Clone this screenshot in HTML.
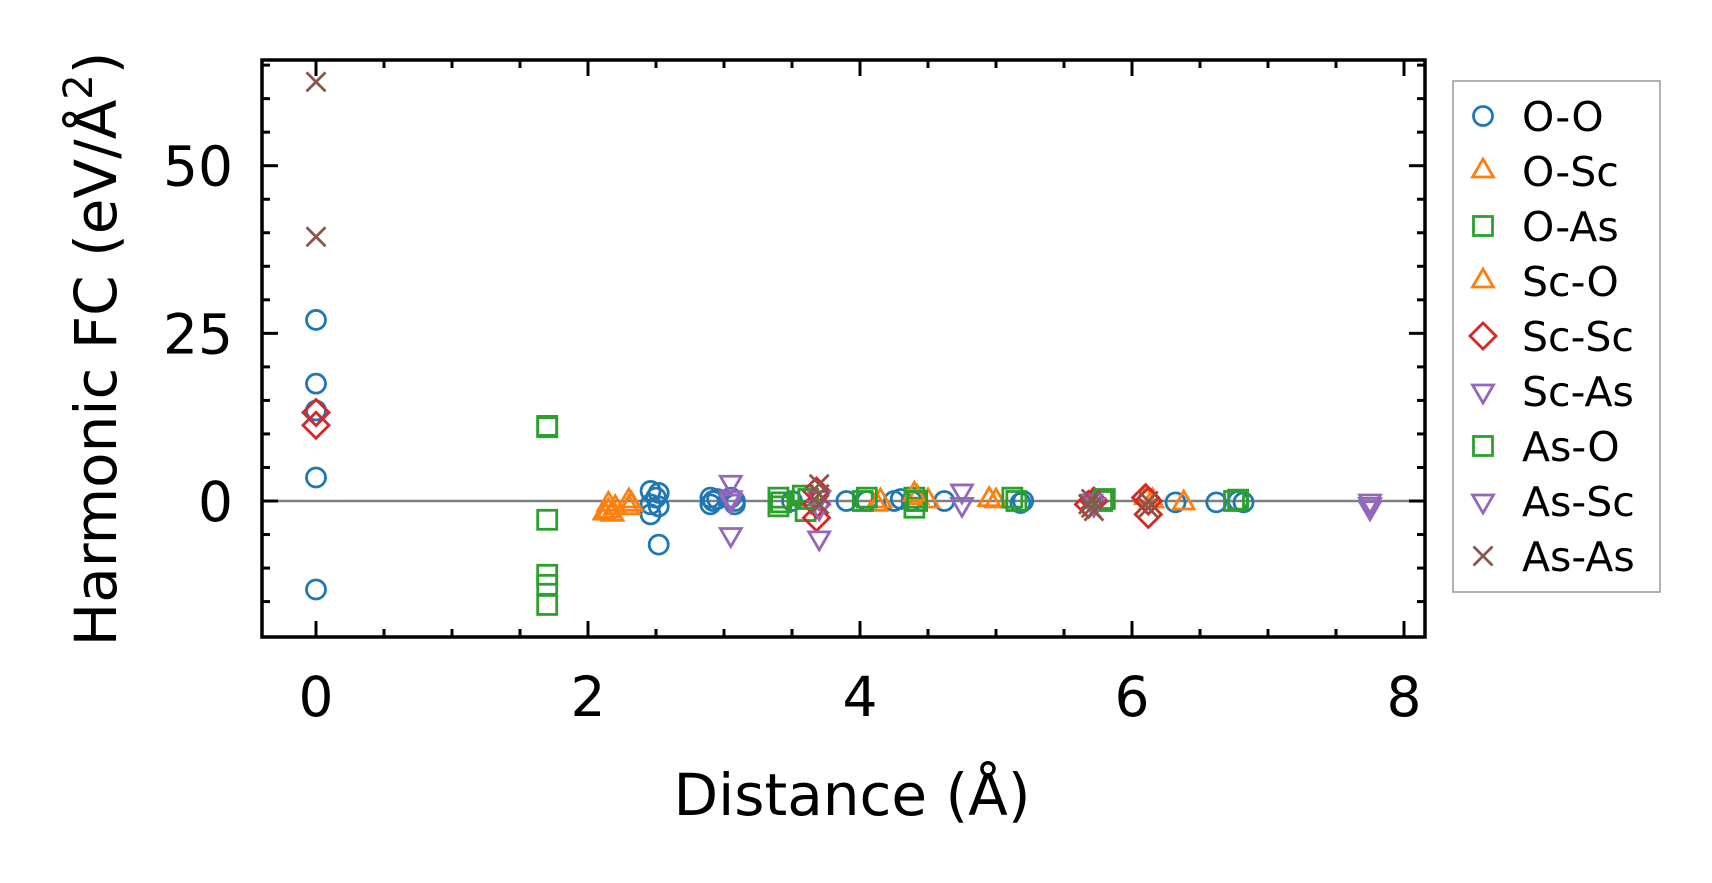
<!DOCTYPE html>
<html><head><meta charset="utf-8"><style>
body{margin:0;background:#fff}
svg{display:block}
text{font-family:"DejaVu Sans","Liberation Sans",sans-serif}
</style></head><body>
<svg id="chart" width="1712" height="883" viewBox="0 0 1712 883" xmlns="http://www.w3.org/2000/svg"></svg>
<script>
const xTicks=[0,2,4,6,8];
const yTicks=[0,25,50];
const seriesNames=["O-O","O-Sc","O-As","Sc-O","Sc-Sc","Sc-As","As-O","As-Sc","As-As"];
const ooData=[[0,27],[0,17.5],[0,13.5],[0,3.5],[0,-13.2],[2.46,1.5],[2.46,-0.5],[2.46,-2],[2.5,0.5],[2.52,1.2],[2.52,-0.8],[2.52,-6.5],[2.9,0.5],[2.9,-0.5],[2.92,0],[2.95,0.3],[3.08,0],[3.08,-0.5],[3.05,0.5],[3.5,0],[3.9,0],[4.05,0],[4.25,0],[4.3,0.3],[4.38,0],[4.62,0],[5.18,-0.3],[5.2,0],[6.32,-0.2],[6.62,-0.2],[6.78,0],[6.82,-0.2]];
const oscData=[[2.15,-1.5],[2.15,-0.5],[2.18,-2],[2.3,-1],[2.3,0],[4.12,-0.5],[4.42,0.5],[4.5,0],[5.0,0],[6.15,0],[6.38,-0.3]];
const oasData=[[1.7,11],[1.7,-2.8],[1.7,-11],[1.7,-12.5],[1.7,-15.5],[3.4,0.5],[3.4,-0.8],[3.58,0.8],[3.6,-1.5],[4.02,0],[4.4,0.5],[4.4,-1],[5.12,0.5],[5.78,0],[6.78,0.2]];
const scoData=[[2.12,-1.8],[2.2,-1],[2.32,-0.5],[4.15,0],[4.4,1],[4.95,0.2],[6.1,0.5]];
const scscData=[[0,13.2],[0,11.3],[3.68,1.5],[3.68,-0.5],[3.68,-2.5],[5.68,-0.5],[5.72,0],[6.12,0],[6.12,-2],[6.1,0.5]];
const scasData=[[3.05,2.8],[3.05,-5],[3.05,0.5],[3.7,-5.5],[3.7,-1],[4.75,1.5],[4.75,-0.5],[5.7,0],[7.75,-0.5],[7.75,0]];
const asoData=[[1.7,11.2],[3.42,-0.2],[3.62,0.3],[4.05,0.5],[4.42,0],[5.15,0],[5.8,0.3],[6.75,0]];
const asscData=[[3.05,0],[3.7,0.5],[5.72,-0.5],[7.75,-1]];
const asasData=[[0,62.5],[0,39.4],[3.7,2.5],[3.7,1],[3.7,-0.5],[5.68,-0.5],[5.7,-1],[5.72,-1.5],[5.7,0.3],[6.12,0],[6.12,-1]];

const NS="http://www.w3.org/2000/svg";
const svg=document.getElementById('chart');
const L=262,R=1425,T=60,B=637;
const X0=316,XS=136,Y0=501,YS=6.706;
function sx(d){return X0+XS*d;}
function sy(v){return Y0-YS*v;}
function mk(tag,attrs,parent){const e=document.createElementNS(NS,tag);for(const k in attrs)e.setAttribute(k,attrs[k]);(parent||svg).appendChild(e);return e;}

const zl=mk('line',{x1:L,x2:R,y1:sy(0),y2:sy(0),stroke:'#808080','stroke-width':2.5});



const colors=["#1f77b4","#ff7f0e","#2ca02c","#ff7f0e","#d62728","#9467bd","#2ca02c","#9467bd","#8c564b"];
const shapes=["circle","tri","square","tri","diamond","dtri","square","dtri","x"];
const datasets=[ooData,oscData,oasData,scoData,scscData,scasData,asoData,asscData,asasData];
function marker(shape,x,y,c,g,s){
  s=s||1;let e;
  const st={fill:'none',stroke:c,'stroke-width':2.8};
  if(shape==='circle'){e=mk('circle',Object.assign({cx:x,cy:y,r:9.5*s},st),g);}
  else if(shape==='square'){e=mk('rect',Object.assign({x:x-9.5*s,y:y-9.5*s,width:19*s,height:19*s},st),g);}
  else if(shape==='tri'){const r=12*s;e=mk('polygon',Object.assign({points:`${x},${y-r} ${x+r*0.87},${y+r*0.5} ${x-r*0.87},${y+r*0.5}`},st),g);}
  else if(shape==='dtri'){const r=12*s;e=mk('polygon',Object.assign({points:`${x},${y+r} ${x+r*0.87},${y-r*0.5} ${x-r*0.87},${y-r*0.5}`},st),g);}
  else if(shape==='diamond'){const r=13*s;e=mk('polygon',Object.assign({points:`${x},${y-r} ${x+r},${y} ${x},${y+r} ${x-r},${y}`},st),g);}
  else {const r=9.5*s;e=mk('path',Object.assign({d:`M${x-r},${y-r}L${x+r},${y+r}M${x-r},${y+r}L${x+r},${y-r}`},st),g);}
  return e;
}
datasets.forEach((ds,i)=>{
  const g=mk('g',{});
  
  
  ds.forEach(p=>{
    const m=marker(shapes[i],sx(p[0]),sy(p[1]),colors[i],g);
    
    
  });
});

const tg=mk('g',{stroke:'#000','stroke-width':3});


for(let d=0;d<=8.01;d+=0.5){
  const x=sx(d);const major=Math.abs(d-Math.round(d/2)*2)<1e-6;const len=major?16:8;
  mk('line',{x1:x,x2:x,y1:B,y2:B-len},tg);mk('line',{x1:x,x2:x,y1:T,y2:T+len},tg);
}
for(let v=-15;v<=65;v+=5){
  const y=sy(v);const major=v%25===0;const len=major?16:8;
  mk('line',{x1:L,x2:L+len,y1:y,y2:y},tg);mk('line',{x1:R,x2:R-len,y1:y,y2:y},tg);
}
const frame=mk('rect',{x:L,y:T,width:R-L,height:B-T,fill:'none',stroke:'#000','stroke-width':3.5});



xTicks.forEach(t=>{
  const e=mk('text',{x:sx(t),y:716,'font-size':55,'text-anchor':'middle'});e.textContent=t;
  
  
});
yTicks.forEach(t=>{
  const e=mk('text',{x:233,y:sy(t)+20,'font-size':55,'text-anchor':'end'});e.textContent=t;
  
  
});
const xl=mk('text',{x:852,y:815,'font-size':58,'text-anchor':'middle'});xl.textContent='Distance (Å)';


const yl=mk('text',{x:0,y:0,'font-size':58,'text-anchor':'middle',transform:'translate(116,349) rotate(-90)'});
yl.innerHTML='Harmonic FC (eV/Å<tspan dy="-24" font-size="40">2</tspan><tspan dy="24">)</tspan>';



const lg=mk('g',{});


mk('rect',{x:1453,y:81,width:207,height:511,fill:'#fff',stroke:'#999','stroke-width':1.5},lg);
seriesNames.forEach((n,i)=>{
  const y=116+55*i;
  const ent=mk('g',{},lg);
  
  
  marker(shapes[i],1483,y,colors[i],ent,1);
  const t=mk('text',{x:1522,y:y+15,'font-size':41},ent);t.textContent=n;
});
</script>
</body></html>
